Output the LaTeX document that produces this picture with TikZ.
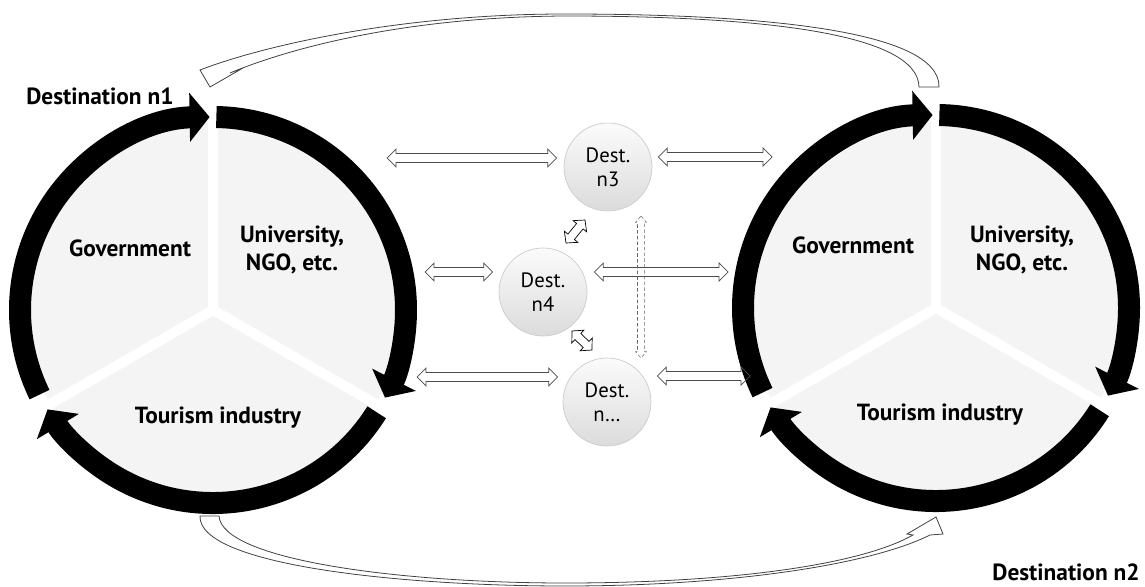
\documentclass[tikz,border=0pt]{standalone}
\usepackage{fontspec}
\setmainfont{PT Sans}
\usetikzlibrary{arrows.meta,positioning,calc}

% hollow double-headed arrow between two named points
\newcommand\lks{2.56pt}% half shaft
\newcommand\lkh{5.1pt}% half head
\newcommand\lka{5.1pt}% head length
\newcommand\hollowlink[3][]{%
  \path[link,#1] let \p1=(#2), \p2=(#3),
      \n1={atan2(\y2-\y1,\x2-\x1)}, \n2={veclen(\x2-\x1,\y2-\y1)} in
    [shift={(\p1)}, rotate=\n1]
    (0pt,0pt) -- (\lka,\lkh) -- (\lka,\lks) -- (\n2-\lka,\lks) -- (\n2-\lka,\lkh)
    -- (\n2,0pt) -- (\n2-\lka,-\lkh) -- (\n2-\lka,-\lks) -- (\lka,-\lks) -- (\lka,-\lkh) -- cycle;}

\begin{document}
\begin{tikzpicture}[x=0.02cm,y=-0.02cm,
    pie/.style={fill=gray!9},
    cut/.style={white,line width=0.2cm},
    ringarrow/.style={line width=0.44cm,-{Triangle[length=0.4cm,width=0.96cm]}},
    dest/.style={circle,minimum size=1.76cm,inner sep=0pt,align=center,
                 top color=gray!3,bottom color=gray!28,draw=gray!40,
                 font=\fontsize{11.8}{13.8}\selectfont},
    actor/.style={align=center,font=\bfseries\fontsize{13.3}{15.5}\selectfont},
    link/.style={draw=black!70,line width=0.4pt,line join=miter},
    swing/.style={draw=black!75,line width=0.45pt,fill=white}]

  \useasboundingbox (0,0) rectangle (1145,587);

  % the two destinations
  \coordinate (c1) at (213,310);
  \coordinate (c2) at (936,308);

  \foreach \c in {c1,c2}{
    \fill[pie] (\c) circle[radius=188];
    \foreach \a in {-90,30,150}
      \draw[cut] (\c) -- ++(\a:200);
    \draw[ringarrow] (\c) ++(-206:193) arc[start angle=-206, end angle=-91, radius=193];
    \draw[ringarrow] (\c) ++(-89:193) arc[start angle=-89, end angle=27, radius=193];
    \draw[ringarrow] (\c) ++(32:193) arc[start angle=32, end angle=149, radius=193];
  }

  \node[actor] (gov1) at (130,248) {Government};
  \node[actor] (uni1) at (292,250) {University,\\NGO, etc.};
  \node[actor] (tour1) at (218,418) {Tourism industry};
  \node[actor] (gov2) at (853,245) {Government};
  \node[actor] (uni2) at (1022,250) {University,\\NGO, etc.};
  \node[actor] (tour2) at (940,415) {Tourism industry};
  \node[actor] (dn1) at (100,96) {Destination n1};
  \node[actor] (dn2) at (1066,572) {Destination n2};

  % other destinations
  \node[dest] (n3) at (608,167) {Dest.\\n3};
  \node[dest] (n4) at (543,292) {Dest.\\n4};
  \node[dest] (nx) at (607,402) {Dest.\\n…};

  \coordinate (l3) at (387,158);
  \coordinate (r3) at (772,157);
  \coordinate (l4) at (425,272);
  \coordinate (r4) at (728,272);
  \coordinate (lx) at (417,377);
  \coordinate (rx) at (750,376);
  \coordinate (vt) at (641,216);
  \coordinate (vb) at (641,358);
  \coordinate (s1a) at (566,243);
  \coordinate (s1b) at (585,220);
  \coordinate (s2a) at (572,331);
  \coordinate (s2b) at (592,350);

  \hollowlink{l3}{$(l3 -| n3.west)+(-7,0)$}
  \hollowlink{$(n3.east |- r3)+(6,0)$}{r3}
  \hollowlink{l4}{$(l4 -| n4.west)+(-6,0)$}
  \hollowlink{$(n4.east |- r4)+(7,0)$}{r4}
  \hollowlink{lx}{$(lx -| nx.west)+(-5,0)$}
  \hollowlink{$(nx.east |- rx)+(6,0)$}{rx}
  {\renewcommand\lks{2pt}\renewcommand\lkh{3.1pt}\renewcommand\lka{3.6pt}%
   \hollowlink[draw=black!60,line width=0.3pt,dash pattern=on 2pt off 1.3pt]{vt}{vb}}
  {\renewcommand\lks{2.4pt}\renewcommand\lkh{5pt}\renewcommand\lka{4.6pt}%
   \hollowlink[draw=black]{s1a}{s1b}
   \hollowlink[draw=black]{s2a}{s2b}}

  % exchange between n2 and n1
  \draw[swing] (939,87) .. controls (940,30) and (760,14) .. (565,14)
     .. controls (400,14) and (262,46) .. (200,70) -- (210,87) -- (243,68) -- (230,73)
     .. controls (285,50) and (400,17) .. (565,16)
     .. controls (760,16) and (918,33) .. (919,87) -- cycle;
  \draw[swing] (200,516) .. controls (198,565) and (400,586) .. (565,586)
     .. controls (730,586) and (870,565) .. (930,535) -- (943,534) -- (936,517) -- (907,534) -- (913,535)
     .. controls (860,565) and (730,583) .. (565,583)
     .. controls (400,583) and (222,560) .. (219,516) -- cycle;

\end{tikzpicture}
\end{document}
